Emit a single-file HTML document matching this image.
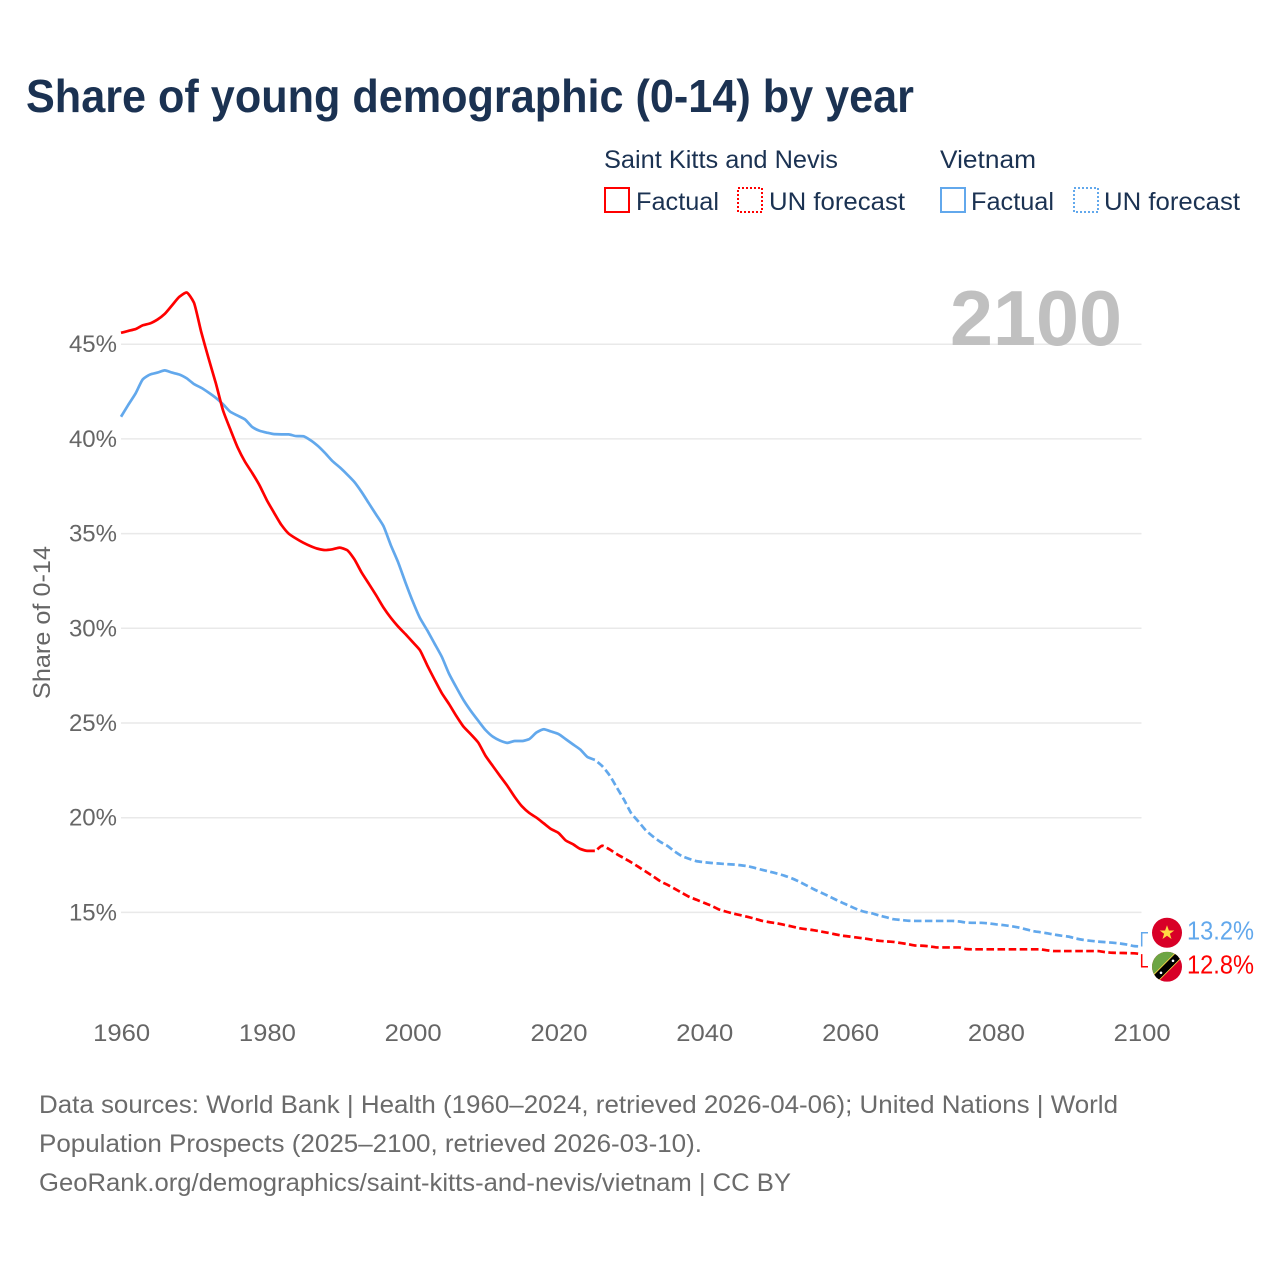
<!DOCTYPE html>
<html lang="en">
<head>
<meta charset="utf-8">
<title>Share of young demographic (0-14) by year</title>
<style>
  html, body { margin: 0; padding: 0; background: #fff; }
  svg { display: block; font-family: "Liberation Sans", sans-serif; }
  .tick { font-size: 24px; fill: #666; }
  .foot { font-size: 25px; fill: #6b6b6b; }
  .leg { font-size: 25px; fill: #1b3252; }
</style>
</head>
<body>
<svg id="chart" width="1280" height="1280" viewBox="0 0 1280 1280" xmlns="http://www.w3.org/2000/svg">
  <defs>
    <clipPath id="flag-clip-a"><circle cx="0" cy="0" r="15"/></clipPath>
  </defs>
  <rect x="0" y="0" width="1280" height="1280" fill="#fff"/>
  <text x="26" y="112" font-size="46" font-weight="700" fill="#1b3252" textLength="888" lengthAdjust="spacingAndGlyphs">Share of young demographic (0-14) by year</text>

  <g>
    <text class="leg" x="604" y="168" textLength="234" lengthAdjust="spacingAndGlyphs">Saint Kitts and Nevis</text>
    <text class="leg" x="940" y="168" textLength="96" lengthAdjust="spacingAndGlyphs">Vietnam</text>
    <rect x="605" y="188" width="24" height="24" fill="none" stroke="#f00" stroke-width="2"/>
    <text class="leg" x="636" y="210" textLength="83" lengthAdjust="spacingAndGlyphs">Factual</text>
    <rect x="738" y="188" width="24" height="24" fill="none" stroke="#f00" stroke-width="2" stroke-dasharray="2 2"/>
    <text class="leg" x="769" y="210" textLength="136" lengthAdjust="spacingAndGlyphs">UN forecast</text>
    <rect x="941" y="188" width="24" height="24" fill="none" stroke="#62a8ec" stroke-width="2"/>
    <text class="leg" x="971" y="210" textLength="83" lengthAdjust="spacingAndGlyphs">Factual</text>
    <rect x="1074" y="188" width="24" height="24" fill="none" stroke="#62a8ec" stroke-width="2" stroke-dasharray="2 2"/>
    <text class="leg" x="1104" y="210" textLength="136" lengthAdjust="spacingAndGlyphs">UN forecast</text>
  </g>

  <g id="grid"></g>
  <text x="950" y="345" font-size="78" font-weight="700" fill="#c0c0c0" textLength="172" lengthAdjust="spacingAndGlyphs">2100</text>
  <g id="y-ticks"></g>
  <g id="x-ticks"></g>
  <text x="0" y="0" transform="translate(50 622.5) rotate(-90)" text-anchor="middle" font-size="24" fill="#666" textLength="153" lengthAdjust="spacingAndGlyphs">Share of 0-14</text>
  <g id="series"></g>
  <g id="end-labels"></g>

  <g>
    <text class="foot" x="39" y="1113" textLength="1079" lengthAdjust="spacingAndGlyphs">Data sources: World Bank | Health (1960–2024, retrieved 2026-04-06); United Nations | World</text>
    <text class="foot" x="39" y="1152" textLength="663" lengthAdjust="spacingAndGlyphs">Population Prospects (2025–2100, retrieved 2026-03-10).</text>
    <text class="foot" x="39" y="1191" textLength="752" lengthAdjust="spacingAndGlyphs">GeoRank.org/demographics/saint-kitts-and-nevis/vietnam | CC BY</text>
  </g>
</svg>
<script>
const factualStartYear = 1960;
const forecastStartYear = 2025;
const xTickYears = [1960, 1980, 2000, 2020, 2040, 2060, 2080, 2100];
const yTickValues = [15, 20, 25, 30, 35, 40, 45];
const kittsFactual = [
  45.6,45.7,45.8,46.0,46.1,46.3,46.6,47.05,47.5,47.73,
  47.2,45.65,44.27,42.95,41.5,40.5,39.55,38.8,38.2,37.55,
  36.77,36.1,35.46,35.0,34.74,34.52,34.34,34.2,34.13,34.17,
  34.26,34.13,33.65,32.95,32.35,31.74,31.1,30.56,30.1,29.7,
  29.28,28.85,28.05,27.3,26.58,26.0,25.37,24.8,24.4,23.97,
  23.27,22.73,22.2,21.68,21.1,20.6,20.25,20.0,19.7,19.4,
  19.2,18.8,18.6,18.35,18.25,18.25
];
const kittsForecast = [
  18.2,18.52,18.33,18.08,17.86,17.64,17.4,17.15,16.9,16.64,
  16.45,16.24,16.02,15.81,15.66,15.5,15.35,15.16,15.04,14.94,
  14.85,14.76,14.66,14.55,14.48,14.42,14.34,14.26,14.17,14.11,
  14.06,13.99,13.92,13.84,13.77,13.72,13.67,13.62,13.56,13.5,
  13.47,13.44,13.38,13.32,13.25,13.24,13.2,13.15,13.15,13.15,
  13.15,13.06,13.05,13.05,13.05,13.05,13.05,13.05,13.05,13.05,
  13.05,13.05,13.0,12.96,12.96,12.96,12.96,12.96,12.96,12.96,
  12.9,12.87,12.86,12.85,12.84,12.8
];
const vietnamFactual = [
  41.17,41.8,42.4,43.15,43.4,43.5,43.62,43.5,43.4,43.2,
  42.9,42.7,42.45,42.17,41.83,41.43,41.23,41.03,40.63,40.43,
  40.33,40.25,40.24,40.24,40.15,40.14,39.93,39.63,39.25,38.83,
  38.5,38.13,37.73,37.2,36.6,36.0,35.4,34.4,33.5,32.44,
  31.44,30.55,29.9,29.2,28.5,27.6,26.88,26.2,25.63,25.12,
  24.63,24.28,24.07,23.95,24.05,24.05,24.15,24.5,24.67,24.55,
  24.42,24.15,23.87,23.6,23.2,23.05
];
const vietnamForecast = [
  23.05,22.73,22.25,21.6,20.95,20.23,19.79,19.33,19.0,18.72,
  18.5,18.2,17.96,17.82,17.7,17.65,17.61,17.58,17.55,17.53,
  17.49,17.44,17.34,17.24,17.15,17.05,16.94,16.8,16.63,16.43,
  16.23,16.05,15.87,15.68,15.5,15.33,15.16,15.03,14.95,14.84,
  14.74,14.64,14.6,14.56,14.55,14.55,14.55,14.55,14.55,14.55,
  14.52,14.46,14.45,14.45,14.42,14.37,14.33,14.28,14.21,14.12,
  14.02,13.96,13.9,13.83,13.77,13.72,13.62,13.55,13.5,13.46,
  13.43,13.4,13.36,13.3,13.22,13.2
];

const NS = 'http://www.w3.org/2000/svg';
const RED = '#ff0000';
const BLUE = '#62a8ec';
function xScale(year) { return 121 + (year - 1960) * 7.29; }
function yScale(value) { return 912.4 - (value - 15) * 18.94; }
function make(tag, parent, attrs, text) {
  const el = document.createElementNS(NS, tag);
  for (const k in attrs) el.setAttribute(k, attrs[k]);
  if (text !== undefined) el.textContent = text;
  parent.appendChild(el);
  return el;
}
/* lightly smoothed path through the data points; short handles keep peaks crisp */
function pathFor(values, startYear) {
  const xs = values.map(function (v, i) { return xScale(startYear + i); });
  const ys = values.map(function (v) { return yScale(v); });
  const n = xs.length;
  const slopes = [];
  for (let i = 0; i < n - 1; i++) slopes.push((ys[i + 1] - ys[i]) / (xs[i + 1] - xs[i]));
  const tangents = [slopes[0]];
  for (let i = 1; i < n - 1; i++) {
    const a = slopes[i - 1], b = slopes[i];
    tangents.push(a * b <= 0 ? 0 : 2 * a * b / (a + b));
  }
  tangents.push(slopes[n - 2]);
  let d = 'M' + xs[0].toFixed(2) + ' ' + ys[0].toFixed(2);
  for (let i = 0; i < n - 1; i++) {
    const h = (xs[i + 1] - xs[i]) / 5;
    d += ' C' + (xs[i] + h).toFixed(2) + ' ' + (ys[i] + tangents[i] * h).toFixed(2) +
         ' ' + (xs[i + 1] - h).toFixed(2) + ' ' + (ys[i + 1] - tangents[i + 1] * h).toFixed(2) +
         ' ' + xs[i + 1].toFixed(2) + ' ' + ys[i + 1].toFixed(2);
  }
  return d;
}

const gridGroup = document.getElementById('grid');
const yTickGroup = document.getElementById('y-ticks');
yTickValues.forEach(function (v) {
  const line = make('line', gridGroup, { x1: 121, x2: 1141.5, y1: yScale(v), y2: yScale(v), stroke: '#e9e9e9', 'stroke-width': 1.5 });
  
  
  const label = make('text', yTickGroup, { class: 'tick', x: 117, y: yScale(v) + 8, 'text-anchor': 'end' }, v + '%');
  
  
});

const xTickGroup = document.getElementById('x-ticks');
xTickYears.forEach(function (y) {
  const label = make('text', xTickGroup, { class: 'tick', x: xScale(y) + 0.6, y: 1041, 'text-anchor': 'middle', textLength: 57, lengthAdjust: 'spacingAndGlyphs' }, String(y));
  
  
});

const seriesGroup = document.getElementById('series');
function drawLine(values, startYear, color, dashed, name) {
  const p = make('path', seriesGroup, { d: pathFor(values, startYear), fill: 'none', stroke: color, 'stroke-width': 2.7, 'stroke-linejoin': 'round' });
  
  
  if (dashed) {
    /* gap first, whole dash periods, closing gap before the leader */
    const gap = 3.5;
    const len = p.getTotalLength() - gap;
    const period = len / Math.round(len / 11);
    const dash = period - gap;
    p.setAttribute('stroke-dasharray', dash.toFixed(3) + ' ' + gap);
    p.setAttribute('stroke-dashoffset', dash.toFixed(3));
  }
}
drawLine(vietnamFactual, factualStartYear, BLUE, false, 'line-vietnam-factual');
drawLine(vietnamForecast, forecastStartYear, BLUE, true, 'line-vietnam-forecast');
drawLine(kittsFactual, factualStartYear, RED, false, 'line-saint-kitts-factual');
drawLine(kittsForecast, forecastStartYear, RED, true, 'line-saint-kitts-forecast');

const endGroup = document.getElementById('end-labels');
const vnLast = vietnamForecast[vietnamForecast.length - 1];
const knLast = kittsForecast[kittsForecast.length - 1];
const midY = (yScale(vnLast) + yScale(knLast)) / 2;
const vnY = midY - 17.5;
const knY = midY + 16.5;
const flagX = 1167;

const vnLeader = make('path', endGroup, { d: 'M1141.7 ' + yScale(vnLast) + ' V' + vnY + ' H1148', fill: 'none', stroke: BLUE, 'stroke-width': 1.5 });


const knLeader = make('path', endGroup, { d: 'M1141.7 ' + yScale(knLast) + ' V' + knY + ' H1148', fill: 'none', stroke: RED, 'stroke-width': 1.5 });



const vnFlag = make('g', endGroup, { transform: 'translate(' + flagX + ' ' + vnY + ')' });


make('circle', vnFlag, { cx: 0, cy: 0, r: 15, fill: '#d80027' });
make('polygon', vnFlag, { points: '0,-7.5 1.9,-2.3 7.3,-2.3 2.9,1 4.5,6.2 0,3 -4.5,6.2 -2.9,1 -7.3,-2.3 -1.9,-2.3', fill: '#ffda44' });

const knFlag = make('g', endGroup, { transform: 'translate(' + flagX + ' ' + knY + ')', 'clip-path': 'url(#flag-clip-a)' });


make('rect', knFlag, { x: -15, y: -15, width: 30, height: 30, fill: '#d80027' });
make('polygon', knFlag, { points: '-15,-15 15,-15 -15,15', fill: '#6da544' });
make('polygon', knFlag, { points: '-15,9 9,-15 15,-15 15,-9 -9,15 -15,15', fill: '#ffda44' });
make('polygon', knFlag, { points: '-14,12 12,-14 14,-12 -12,14', fill: '#000', stroke: '#000', 'stroke-width': 4 });
make('circle', knFlag, { cx: -6, cy: 6, r: 1.3, fill: '#fff' });
make('circle', knFlag, { cx: 6, cy: -6, r: 1.3, fill: '#fff' });

const vnValue = make('text', endGroup, { x: 1187, y: vnY + 6.5, 'font-size': 26, fill: BLUE, textLength: 67, lengthAdjust: 'spacingAndGlyphs' }, vnLast.toFixed(1) + '%');


const knValue = make('text', endGroup, { x: 1187, y: knY + 6.5, 'font-size': 26, fill: RED, textLength: 67, lengthAdjust: 'spacingAndGlyphs' }, knLast.toFixed(1) + '%');


</script>
</body>
</html>
